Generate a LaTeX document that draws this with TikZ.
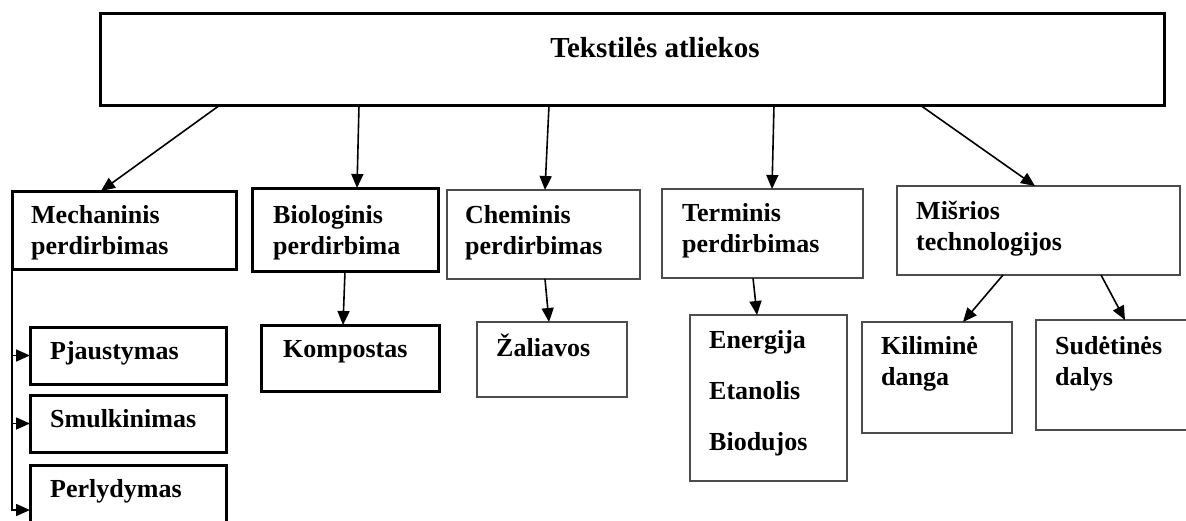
\documentclass[tikz,border=0pt]{standalone}
\usepackage{fontspec}
\setmainfont{Liberation Serif}
\usetikzlibrary{arrows.meta}

\tikzset{
  blok/.style={draw, rectangle, anchor=north west, outer sep=0pt, inner sep=0pt, line width=3pt},
  pilkas/.style={blok, draw=black!70, line width=2pt},
  txt/.style={anchor=north west, align=left, inner sep=0pt, font=\bfseries\fontsize{26}{31}\selectfont},
  rodykle/.style={->, line width=1.6pt},
}

\begin{document}
\begin{tikzpicture}[x=1pt, y=-1pt, >={Triangle[length=14pt,width=12pt]}]
        \useasboundingbox (0,0) rectangle (1186,520);

        % Top box
        \node[blok, minimum width=1064, minimum height=92,
              label={[txt, anchor=north, font=\bfseries\fontsize{29}{31}\selectfont, xshift=23pt, yshift=-24pt]north:Tekstilės atliekos}] (atl) at (100,13) {};

        % Second level
        \node[blok, minimum width=224, minimum height=78,
              label={[txt, xshift=19pt, yshift=-14pt]north west:Mechaninis\\perdirbimas}] (mech) at (12,191) {};
        \node[blok, minimum width=186, minimum height=83,
              label={[txt, xshift=21pt, yshift=-17pt]north west:Biologinis\\perdirbima}] (bio) at (252,188) {};
        \node[pilkas, minimum width=193, minimum height=89,
              label={[txt, xshift=18pt, yshift=-15pt]north west:Cheminis\\perdirbimas}] (chem) at (447,190) {};
        \node[pilkas, minimum width=201, minimum height=89,
              label={[txt, xshift=20pt, yshift=-14pt]north west:Terminis\\perdirbimas}] (term) at (662,189) {};
        \node[pilkas, minimum width=283, minimum height=89,
              label={[txt, xshift=19pt, yshift=-15pt]north west:Mišrios\\technologijos}] (mis) at (897,186) {};

        % Third level
        \node[blok, minimum width=178, minimum height=66,
              label={[txt, xshift=22pt, yshift=-15pt]north west:Kompostas}] (komp) at (261,325) {};
        \node[pilkas, minimum width=150, minimum height=75,
              label={[txt, xshift=19pt, yshift=-12pt]north west:Žaliavos}] (zal) at (477,322) {};
        \node[pilkas, minimum width=157, minimum height=166,
              label={[txt, xshift=19pt, yshift=-15pt]north west:Energija\\[20pt]Etanolis\\[20pt]Biodujos}] (ener) at (690,315) {};
        \node[pilkas, minimum width=150, minimum height=111,
              label={[txt, xshift=19pt, yshift=-14pt]north west:Kiliminė\\danga}] (kil) at (862,322) {};
        \node[pilkas, minimum width=160, minimum height=110,
              label={[txt, xshift=19pt, yshift=-16pt]north west:Sudėtinės\\dalys}] (sud) at (1036,320) {};

        % Mechaninis sub-steps
        \node[blok, minimum width=196, minimum height=57,
              label={[txt, xshift=20pt, yshift=-14pt]north west:Pjaustymas}] (pjau) at (30,327) {};
        \node[blok, minimum width=196, minimum height=57,
              label={[txt, xshift=20pt, yshift=-14pt]north west:Smulkinimas}] (smul) at (30,395) {};
        \node[blok, minimum width=196, minimum height=90,
              label={[txt, xshift=20pt, yshift=-14pt]north west:Perlydymas}] (perl) at (30,465) {};

        % Arrows from the top box
        \draw[rodykle] ([xshift=120pt]atl.south west) -- ([xshift=89pt]mech.north west);
        \draw[rodykle] ([xshift=259pt]atl.south west) -- ([xshift=105pt]bio.north west);
        \draw[rodykle] ([xshift=449pt]atl.south west) -- ([xshift=98pt]chem.north west);
        \draw[rodykle] ([xshift=674pt]atl.south west) -- ([xshift=110pt]term.north west);
        \draw[rodykle] ([xshift=820pt]atl.south west) -- ([xshift=138pt]mis.north west);

        % Arrows to the results
        \draw[rodykle] ([xshift=93pt]bio.south west) -- ([xshift=82pt]komp.north west);
        \draw[rodykle] ([xshift=98pt]chem.south west) -- ([xshift=72pt]zal.north west);
        \draw[rodykle] ([xshift=91pt]term.south west) -- ([xshift=67pt]ener.north west);
        \draw[rodykle] ([xshift=106pt]mis.south west) -- ([xshift=101pt]kil.north west);
        \draw[rodykle] ([xshift=204pt]mis.south west) -- ([xshift=89pt]sud.north west);

        % Line down the left side
        \draw[rodykle] (mech.south west) |- (perl.west);
        \draw[rodykle] (mech.south west |- pjau.west) -- (pjau.west);
        \draw[rodykle] (mech.south west |- smul.west) -- (smul.west);

\end{tikzpicture}
\end{document}
